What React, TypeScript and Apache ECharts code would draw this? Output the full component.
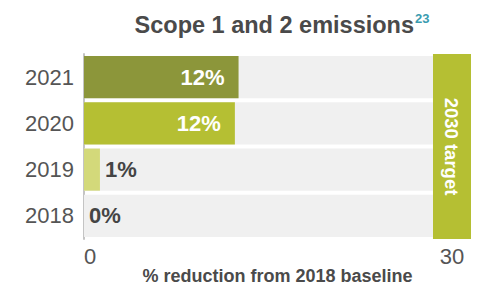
import React, { useEffect, useRef } from "react";
import * as echarts from "echarts";

const years = ["2018", "2019", "2020", "2021"];
const reductions = [0, 1.3, 12.3, 12.6];
const valueLabels = ["0%", "1%", "12%", "12%"];
const barColors = ["#d3d97a", "#d3d97a", "#b5bf33", "#8c963a"];
const targetValue = 30;
const targetLabel = "2030 target";
const axisTicks = [0, 30];

const FONT = "Liberation Sans, Arial, Helvetica, sans-serif";

export default function App() {
  const ref = useRef<HTMLDivElement>(null);
  useEffect(() => {
    document.body.style.margin = "0";
    const chart = echarts.init(ref.current!, null, { renderer: "svg" });
    const targetHalf = 1.55;
    const gray = years.map(() => targetValue - targetHalf);
    chart.setOption({
      animation: false,
      textStyle: { fontFamily: FONT },
      title: {
        text: "{a|Scope 1 and 2 emissions}{b|23}",
        left: 277,
        top: 7,
        textAlign: "center",
        textStyle: {
          rich: {
            a: { fontSize: 23.5, fontWeight: "bold", color: "#4a4a4a", fontFamily: FONT },
            b: { fontSize: 13, color: "#3a9cb0", fontFamily: FONT, padding: [0, 0, 12, 1] },
          },
        },
      },
      grid: { left: 84, right: 10, top: 54, bottom: 46, containLabel: false, outerBoundsMode: "none" },
      xAxis: {
        type: "value",
        min: 0,
        max: targetValue + targetHalf,
        splitLine: { show: false },
        axisLine: { show: false },
        axisTick: { show: false },
        axisLabel: {
          customValues: axisTicks,
          fontSize: 22,
          color: "#555",
          margin: 6,
          alignMinLabel: "left",
          fontFamily: FONT,
        },
        name: "% reduction from 2018 baseline",
        nameLocation: "middle",
        nameGap: 28,
        nameMoveOverlap: false,
        nameTextStyle: { fontSize: 18, fontWeight: "bold", color: "#4a4a4a", fontFamily: FONT },
      },
      yAxis: {
        type: "category",
        data: years,
        axisLine: { show: true, lineStyle: { color: "#c4c4c4", width: 2 } },
        axisTick: { show: false },
        axisLabel: { fontSize: 22, color: "#555", margin: 10, fontFamily: FONT },
      },
      series: [
        {
          type: "bar",
          data: gray,
          barCategoryGap: "9%",
          itemStyle: { color: "#f0f0f0" },
          silent: true,
          z: 1,
          markArea: {
            silent: true,
            itemStyle: { color: "#b5bf33" },
            label: {
              show: true,
              position: "inside",
              rotate: -90,
              color: "#fff",
              fontSize: 18.5,
              fontWeight: "bold",
              fontFamily: FONT,
            },
            data: [[{ xAxis: targetValue - targetHalf, name: targetLabel }, { xAxis: targetValue + targetHalf }]],
          },
        },
        {
          type: "bar",
          barGap: "-100%",
          barCategoryGap: "9%",
          z: 2,
          data: reductions.map((v, i) => ({
            value: v,
            itemStyle: { color: barColors[i] },
            label: {
              show: true,
              formatter: valueLabels[i],
              position: v > 5 ? "insideRight" : "right",
              distance: v > 5 ? 14 : 5,
              color: v > 5 ? "#fff" : "#444",
              fontSize: 22,
              fontWeight: "bold",
              fontFamily: FONT,
            },
          })),
        },
      ],
    });
    return () => chart.dispose();
  }, []);
  return <div ref={ref} style={{ width: 481, height: 285 }} />;
}
